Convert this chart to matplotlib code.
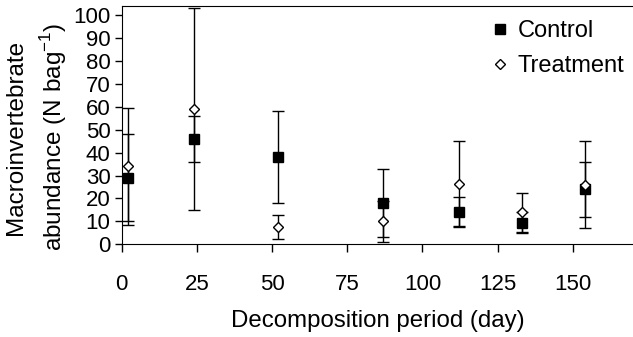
import matplotlib
matplotlib.use("Agg")
from matplotlib import pyplot as plt

plt.rcParams["font.family"] = ["Liberation Sans", "DejaVu Sans"]
plt.rcParams["font.size"] = 16

days = [2, 24, 52, 87, 112, 133, 154]
control = [29, 46, 38, 18, 14, 9.5, 24]
control_err = [19, 10, 20, 15, 6.5, 4.7, 12]
treatment = [34, 59, 7.6, 10, 26.5, 14, 26]
treatment_err = [25.5, 44, 5.3, 9, 18.5, 8.5, 19]

W, H = 633, 337
fig = plt.figure(figsize=(W / 100, H / 100), dpi=100)
ax = fig.add_axes([121.7 / W, 1 - 244.3 / H, 1 - 121.7 / W, (244.3 - 6) / H])

err_kw = dict(fmt="none", ecolor="black", elinewidth=1, capsize=4, capthick=1)
ax.errorbar(days, control, yerr=control_err, **err_kw)
ax.plot(days, control, "s", ms=7.5, mfc="black", mec="black", ls="none", label="Control")
ax.errorbar(days, treatment, yerr=treatment_err, **err_kw)
ax.plot(days, treatment, "D", ms=5.2, mfc="white", mec="black", mew=1, ls="none", label="Treatment")

ax.set_xlim(0, 170)
ax.set_ylim(0, 104)
ax.set_xticks(range(0, 151, 25))
ax.set_yticks(range(0, 101, 10))
ax.spines["right"].set_visible(False)
ax.tick_params(axis="x", direction="out", length=6, width=1, pad=15.5, labelsize=16)
ax.tick_params(axis="y", direction="out", length=5, width=1, pad=3, labelsize=16)

ax.set_xlabel("Decomposition period (day)", fontsize=17.3, labelpad=11)
fig.text(37 / W, 1 - 137 / H, "Macroinvertebrate\nabundance (N bag$^{\\mathregular{-1}}$)",
         fontsize=17.5, rotation=90, ha="center", va="center", multialignment="center",
         linespacing=1.5)

ax.legend(loc="upper left", bbox_to_anchor=(492 / W, 1 - 20 / H), bbox_transform=fig.transFigure,
          frameon=False, fontsize=17, handlelength=0.7, handletextpad=0.4, labelspacing=0.55,
          borderpad=0, borderaxespad=0, numpoints=1)

fig.savefig("out.png", dpi=100)
